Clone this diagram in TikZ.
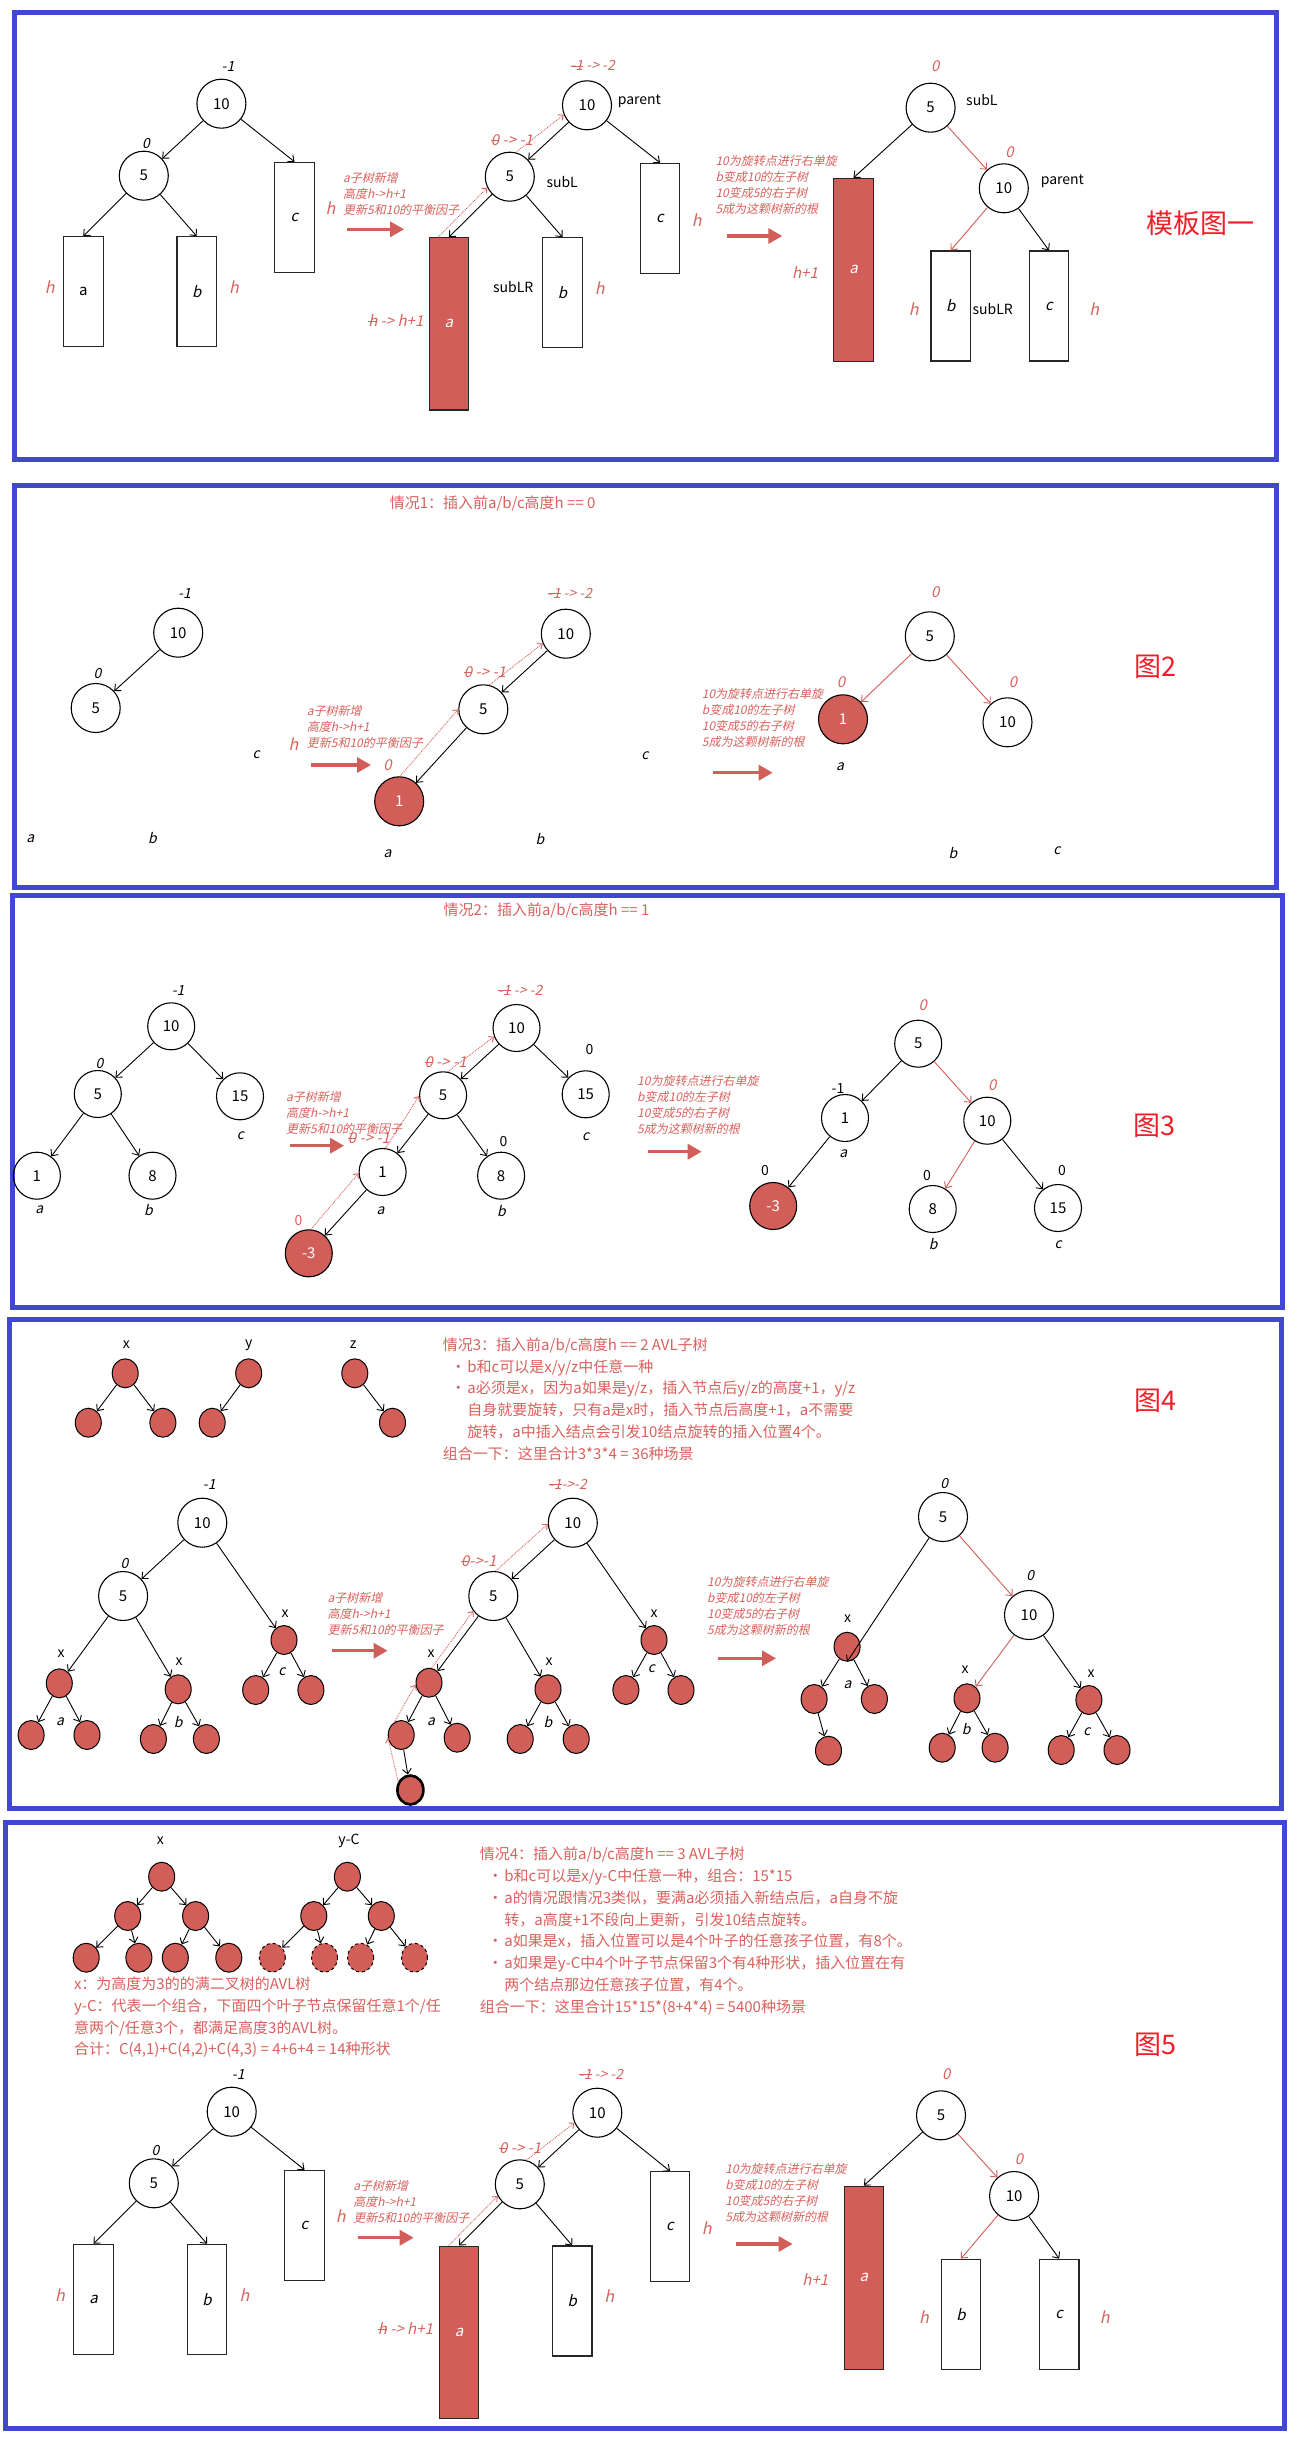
\documentclass[tikz,border=0pt]{standalone}
\usepackage{fontspec}
\setmainfont{Noto Sans CJK SC}
\newfontfamily\slf{Noto Sans CJK SC}[FakeSlant=0.22]
\usetikzlibrary{arrows.meta,shapes.geometric}
\definecolor{pblue}{RGB}{64,72,208}
\definecolor{nred}{RGB}{210,94,90}
\definecolor{tred}{RGB}{216,98,93}
\definecolor{bigred}{RGB}{240,30,40}
\newsavebox\strkbox
\newcommand\strk[1]{\sbox\strkbox{#1}\rlap{\usebox\strkbox}\rule[0.3em]{\wd\strkbox}{0.07em}}
\newcommand\fsz[1]{\fontsize{#1}{#1}\selectfont}
\tikzset{
 panel/.style={draw=pblue, line width=5pt},
 cn/.style={circle, draw=black, line width=1.1pt, minimum size=49pt, inner sep=0pt, font=\fsz{15}},
 cns/.style={cn, minimum size=47pt},
 rcn/.style={fill=nred, text=white},
 tbox/.style={rectangle, draw=black!85, line width=1.1pt, minimum width=39.5pt, minimum height=110pt, inner sep=0pt, font=\slf\fsz{15}},
 rbox/.style={tbox, fill=nred, text=white},
 sn/.style={ellipse, draw=black, fill=nred, line width=1pt, minimum width=26pt, minimum height=29pt, inner sep=0pt},
 ed/.style={-{Straight Barb[length=5pt,width=9pt]}, line width=0.9pt, draw=black},
 redge/.style={ed, draw=nred},
 dotarr/.style={-{Straight Barb[length=4pt,width=7pt]}, draw=tred, line width=0.9pt, densely dotted},
 bigarr/.style={-{Triangle[length=14pt,width=15pt]}, draw=nred, line width=3.2pt},
 lbl/.style={inner sep=0pt, font=\slf\fsz{14}},
 rlbl/.style={lbl, text=tred, font=\slf\fsz{15}},
 ann/.style={inner sep=0pt, anchor=north west, align=left, text=tred, font={\slf\fontsize{12}{16}\selectfont}},
 hl/.style={inner sep=0pt, text=tred, font=\slf\fsz{16}},
 nm/.style={inner sep=0pt, font=\fsz{14}},
 fig/.style={inner sep=0pt, text=bigred, font=\fsz{27}},
 ttl/.style={inner sep=0pt, anchor=west, text=tred, font=\fsz{15}},
 ptxt/.style={inner sep=0pt, anchor=north west, align=left, text=tred, font={\fontsize{15}{21.8}\selectfont}}
}
\newcommand\bul{\makebox[24.5pt][l]{\hspace*{8pt}•}}
\newcommand\ind{\hspace*{24.5pt}}
\begin{document}
\begin{tikzpicture}[x=1pt,y=-1pt]
\useasboundingbox (0,0) rectangle (1298,2438);
\fill[white] (0,0) rectangle (1298,2438);

%================ Panel 1
\draw[panel] (14,12.5) rectangle (1276,459);
\node[cn] (p1A10) at (221.4,103.7) {10};
\node[lbl] (p1t1) at (228,66.7) {-1};
\node[cn] (p1A5) at (143.8,175.7) {5};
\node[lbl] (p1t2) at (146,143.3) {0};
\node[tbox, font=\fsz{15}] (p1Aa) at (83.3,291.7) {a};
\node[tbox] (p1Ab) at (196.7,291.7) {b};
\node[tbox] (p1Ac) at (294.5,217.3) {c};
\node[hl] (p1t3) at (49.7,286.7) {h};
\node[hl] (p1t4) at (234,286.7) {h};
\draw[ed] (p1A10) -- (p1A5);
\draw[ed] (p1A10) -- (p1Ac.north);
\draw[ed] (p1A5) -- (p1Aa.north);
\draw[ed] (p1A5) -- (p1Ab.north);
\node[ann] (p1n1) at (343,171.7) {a子树新增\\高度h->h+1\\更新5和10的平衡因子};
\node[hl] (p1t5) at (330.4,208.3) {h};
\coordinate (p1r1s) at (347.4,229.3); \coordinate (p1r1e) at (404.1,229.3);
\draw[bigarr] (p1r1s) -- (p1r1e);
% middle
\node[cn] (p1B10) at (587,105.3) {10};
\node[rlbl, font=\slf\fsz{14}] (p1t6) at (592.7,65.7) {\strk{-1} -> -2};
\node[nm, anchor=west] (p1t7) at (617.6,101) {parent};
\node[cn] (p1B5) at (509.8,176.7) {5};
\node[nm, anchor=west] (p1t8) at (546.3,181.7) {subL};
\node[rlbl] (p1t9) at (512,140) {\strk{0} -> -1};
\node[rbox, minimum height=172.3pt] (p1Ba) at (448.9,323.85) {a};
\node[hl, font=\slf\fsz{15}] (p1t10) at (395.8,320.7) {\strk{h} -> h+1};
\node[tbox] (p1Bb) at (562.5,292.7) {b};
\node[nm] (p1t11) at (513.2,287.3) {subLR};
\node[hl] (p1t12) at (599.8,288.3) {h};
\node[tbox] (p1Bc) at (660,218.3) {c};
\node[hl] (p1t13) at (696.7,220) {h};
\draw[ed] (p1B10) -- (p1B5);
\draw[ed] (p1B10) -- (p1Bc.north);
\draw[ed] (p1B5) -- (p1Ba.north);
\draw[ed] (p1B5) -- (p1Bb.north);
\draw[dotarr] ([xshift=9.5pt]p1Ba.north west) -- (p1B5.206);
\draw[dotarr] (p1B5.76) -- (p1B10.202);
\node[ann] (p1n2) at (715.3,155) {10为旋转点进行右单旋\\b变成10的左子树\\10变成5的右子树\\5成为这颗树新的根};
\coordinate (p1r2s) at (726.5,236); \coordinate (p1r2e) at (782.3,236);
\draw[bigarr] (p1r2s) -- (p1r2e);
% right
\node[cn] (p1C5) at (930.6,107.7) {5};
\node[rlbl] (p1t14) at (935.2,65.7) {0};
\node[nm, anchor=west] (p1t15) at (966,100) {subL};
\node[cn] (p1C10) at (1003.8,188.3) {10};
\node[rlbl] (p1t16) at (1009.6,151.7) {0};
\node[nm, anchor=west] (p1t17) at (1040.6,181.7) {parent};
\node[rbox, minimum height=182.7pt] (p1Ca) at (853.5,269.7) {a};
\node[hl, font=\slf\fsz{15}] (p1t18) at (805,272.7) {h+1};
\node[tbox] (p1Cb) at (950.7,306) {b};
\node[nm, anchor=west] (p1t19) at (972.4,309.3) {subLR};
\node[hl] (p1t20) at (913.7,309.3) {h};
\node[tbox] (p1Cc) at (1049,306) {c};
\node[hl] (p1t21) at (1094.3,309.3) {h};
\draw[ed] (p1C5) -- (p1Ca.north);
\draw[redge] (p1C5) -- (p1C10);
\draw[redge] (p1C10) -- (p1Cb.north);
\draw[ed] (p1C10) -- (p1Cc.north);
\node[fig] (p1f) at (1200.7,223.3) {模板图一};

%================ Panel 2
\draw[panel] (14,485) rectangle (1276.6,887);
\node[ttl] (p2tt) at (389.6,503.3) {情况1：插入前a/b/c高度h == 0};
\node[cn] (p2A10) at (178.2,632.7) {10};
\node[lbl] (p2t1) at (184.5,593.3) {-1};
\node[cn] (p2A5) at (95.7,708) {5};
\node[lbl] (p2t2) at (97.4,674) {0};
\draw[ed] (p2A10) -- (p2A5);
\node[lbl] (p2t3) at (30.3,838.3) {a};
\node[lbl] (p2t4) at (152.5,838.3) {b};
\node[lbl] (p2t5) at (256.2,755) {c};
\node[ann] (p2n1) at (306.7,704.7) {a子树新增\\高度h->h+1\\更新5和10的平衡因子};
\node[hl] (p2t6) at (293.5,744) {h};
\coordinate (p2r1s) at (310.9,765); \coordinate (p2r1e) at (371,765);
\draw[bigarr] (p2r1s) -- (p2r1e);
\node[rlbl] (p2t7) at (387.6,765) {0};
\node[cn, rcn] (p2B1) at (399.2,801.3) {1};
\node[lbl] (p2t8) at (387.6,853.3) {a};
\node[cn] (p2B5) at (483.3,709.3) {5};
\node[rlbl] (p2t9) at (485,671.7) {\strk{0} -> -1};
\node[cn] (p2B10) at (565.8,633.7) {10};
\node[rlbl, font=\slf\fsz{14}] (p2t10) at (570,593.3) {\strk{-1} -> -2};
\draw[ed] (p2B10) -- (p2B5);
\draw[ed] (p2B5) -- (p2B1);
\draw[dotarr] (p2B1.88) -- (p2B5.180);
\draw[dotarr] (p2B5.76) -- (p2B10.203);
\node[lbl] (p2t11) at (540,839) {b};
\node[lbl] (p2t12) at (645,756) {c};
\node[ann] (p2n2) at (701.7,688) {10为旋转点进行右单旋\\b变成10的左子树\\10变成5的右子树\\5成为这颗树新的根};
\coordinate (p2r2s) at (712.8,772.7); \coordinate (p2r2e) at (772.7,772.7);
\draw[bigarr] (p2r2s) -- (p2r2e);
\node[cn] (p2C5) at (929.8,636.3) {5};
\node[rlbl] (p2t13) at (935.2,592.3) {0};
\node[cn, rcn] (p2C1) at (843,719.3) {1};
\node[rlbl] (p2t14) at (841,682.3) {0};
\node[cn] (p2C10) at (1007.5,722.3) {10};
\node[rlbl] (p2t15) at (1012.9,682.3) {0};
\draw[redge] (p2C5) -- (p2C1);
\draw[redge] (p2C5) -- (p2C10);
\node[lbl] (p2t16) at (840,766.7) {a};
\node[lbl] (p2t17) at (953,853.3) {b};
\node[lbl] (p2t18) at (1057,851) {c};
\node[fig] (p2f) at (1155,666.7) {图2};

%================ Panel 3
\draw[panel] (12,895) rectangle (1282,1307);
\node[ttl] (p3tt) at (443.5,910.7) {情况2：插入前a/b/c高度h == 1};
\node[cns] (p3A10) at (171.2,1026.3) {10};
\node[lbl] (p3t1) at (178.2,990) {-1};
\node[cns] (p3A5) at (97.8,1094) {5};
\node[lbl] (p3t2) at (99.5,1063.3) {0};
\node[cns] (p3A15) at (240,1096.3) {15};
\node[lbl] (p3t3) at (240.4,1136) {c};
\node[cns] (p3A1) at (36.9,1175.7) {1};
\node[lbl] (p3t4) at (39.4,1210) {a};
\node[cns] (p3A8) at (152.5,1175.7) {8};
\node[lbl] (p3t5) at (148.4,1210) {b};
\draw[ed] (p3A10) -- (p3A5);
\draw[ed] (p3A10) -- (p3A15);
\draw[ed] (p3A5) -- (p3A1);
\draw[ed] (p3A5) -- (p3A8);
\node[ann] (p3n1) at (286,1090.7) {a子树新增\\高度h->h+1\\更新5和10的平衡因子};
\coordinate (p3r1s) at (290,1145.7); \coordinate (p3r1e) at (344,1145.7);
\draw[bigarr] (p3r1s) -- (p3r1e);
\node[rlbl] (p3t6) at (369,1138.3) {\strk{0} -> -1};
\node[cns] (p3B10) at (516.5,1028) {10};
\node[rlbl, font=\slf\fsz{14}] (p3t7) at (520.2,990) {\strk{-1} -> -2};
\node[cns] (p3B5) at (443.1,1095.3) {5};
\node[rlbl] (p3t8) at (445.6,1061.7) {\strk{0} -> -1};
\node[cns] (p3B15) at (585.7,1094.3) {15};
\node[nm] (p3t9) at (589.4,1049.3) {0};
\node[lbl] (p3t10) at (585.7,1136.7) {c};
\node[cns] (p3B1) at (382.6,1172) {1};
\node[lbl] (p3t11) at (380.5,1211) {a};
\node[cns] (p3B8) at (501.1,1175.7) {8};
\node[nm] (p3t12) at (503.6,1141.7) {0};
\node[lbl] (p3t13) at (501.5,1211) {b};
\node[cns, rcn] (p3Bm) at (308.8,1253.3) {-3};
\node[nm, text=tred] (p3t14) at (298.4,1220) {0};
\draw[ed] (p3B10) -- (p3B5);
\draw[ed] (p3B10) -- (p3B15);
\draw[ed] (p3B5) -- (p3B1);
\draw[ed] (p3B5) -- (p3B8);
\draw[ed] (p3B1) -- (p3Bm);
\draw[dotarr] (p3Bm.85) -- (p3B1.183);
\draw[dotarr] (p3B1.83) -- (p3B5.182);
\draw[dotarr] (p3B5.79) -- (p3B10.201);
\node[ann] (p3n2) at (637,1075) {10为旋转点进行右单旋\\b变成10的左子树\\10变成5的右子树\\5成为这颗树新的根};
\coordinate (p3r2s) at (648,1151.7); \coordinate (p3r2e) at (701.7,1151.7);
\draw[bigarr] (p3r2s) -- (p3r2e);
\node[cns] (p3C5) at (918.2,1043.7) {5};
\node[rlbl] (p3t15) at (922.8,1005) {0};
\node[cns] (p3C1) at (845,1118) {1};
\node[nm] (p3t16) at (838,1088.3) {-1};
\node[lbl] (p3t17) at (843.4,1153.3) {a};
\node[cns] (p3C10) at (987.3,1120.7) {10};
\node[rlbl] (p3t18) at (992.2,1085) {0};
\node[cns, rcn] (p3Cm) at (773.2,1206) {-3};
\node[nm] (p3t19) at (764.9,1170) {0};
\node[cns] (p3C8) at (932.7,1209) {8};
\node[nm] (p3t20) at (927,1175) {0};
\node[lbl] (p3t21) at (933.1,1244.3) {b};
\node[cns] (p3C15) at (1058,1208) {15};
\node[nm] (p3t22) at (1062,1170) {0};
\node[lbl] (p3t23) at (1058.3,1245) {c};
\draw[ed] (p3C5) -- (p3C1);
\draw[redge] (p3C5) -- (p3C10);
\draw[ed] (p3C1) -- (p3Cm);
\draw[redge] (p3C10) -- (p3C8);
\draw[ed] (p3C10) -- (p3C15);
\node[fig] (p3f) at (1154.5,1126) {图3};

%================ Panel 4
\draw[panel] (9,1319) rectangle (1281.5,1808);
\node[nm] (p4t1) at (126.4,1345) {x};
\node[sn] (p4xr) at (125.2,1373.3) {};
\node[sn] (p4xl) at (88.3,1422.7) {};
\node[sn] (p4xrr) at (162.9,1422.7) {};
\draw[ed] (p4xr) -- (p4xl); \draw[ed] (p4xr) -- (p4xrr);
\node[nm] (p4t2) at (248.7,1345) {y};
\node[sn] (p4yr) at (248.7,1373.3) {};
\node[sn] (p4yl) at (212.2,1422.7) {};
\draw[ed] (p4yr) -- (p4yl);
\node[nm] (p4t3) at (353.2,1345) {z};
\node[sn] (p4zr) at (354.8,1373.3) {};
\node[sn] (p4zc) at (392.5,1422.7) {};
\draw[ed] (p4zr) -- (p4zc);
\node[ptxt] (p4txt) at (442.7,1337.5) {情况3：插入前a/b/c高度h == 2 AVL子树\\
\bul b和c可以是x/y/z中任意一种\\
\bul a必须是x，因为a如果是y/z，插入节点后y/z的高度+1，y/z\\
\ind 自身就要旋转，只有a是x时，插入节点后高度+1，a不需要\\
\ind 旋转，a中插入结点会引发10结点旋转的插入位置4个。\\
组合一下：这里合计3*3*4 = 36种场景};
% left tree
\node[cn] (p4A10) at (202.3,1522.7) {10};
\node[lbl] (p4t4) at (209.3,1484) {-1};
\node[cn] (p4A5) at (123.1,1596) {5};
\node[lbl] (p4t5) at (124.4,1563.3) {0};
\node[sn] (p4Ac) at (284,1640) {};
\node[nm] (p4t6) at (285.2,1613.3) {x};
\node[sn] (p4Ac1) at (255.7,1690) {};
\node[sn] (p4Ac2) at (310.9,1690) {};
\node[lbl] (p4t7) at (281.9,1671.7) {c};
\node[sn] (p4Aa) at (59.3,1683.3) {};
\node[nm] (p4t8) at (61,1653.3) {x};
\node[sn] (p4Aa1) at (31.1,1735) {};
\node[sn] (p4Aa2) at (87,1735) {};
\node[lbl] (p4t9) at (60.1,1721.7) {a};
\node[sn] (p4Ab) at (178.2,1689.3) {};
\node[nm] (p4t10) at (179,1661.7) {x};
\node[sn] (p4Ab1) at (153.4,1739) {};
\node[sn] (p4Ab2) at (206.4,1739) {};
\node[lbl] (p4t11) at (178.2,1721.7) {b};
\draw[ed] (p4A10) -- (p4A5);
\draw[ed] (p4A10) -- (p4Ac);
\draw[ed] (p4A5) -- (p4Aa);
\draw[ed] (p4A5) -- (p4Ab);
\draw[ed] (p4Aa) -- (p4Aa1); \draw[ed] (p4Aa) -- (p4Aa2);
\draw[ed] (p4Ab) -- (p4Ab1); \draw[ed] (p4Ab) -- (p4Ab2);
\draw[ed] (p4Ac) -- (p4Ac1); \draw[ed] (p4Ac) -- (p4Ac2);
\node[ann] (p4n1) at (327.5,1592.3) {a子树新增\\高度h->h+1\\更新5和10的平衡因子};
\coordinate (p4r1s) at (331.6,1650.7); \coordinate (p4r1e) at (387.6,1650.7);
\draw[bigarr] (p4r1s) -- (p4r1e);
% middle tree
\node[cn] (p4B10) at (572.8,1522.7) {10};
\node[rlbl, font=\slf\fsz{14}] (p4t12) at (567.9,1484) {\strk{-1}->-2};
\node[cn] (p4B5) at (493.3,1596) {5};
\node[rlbl] (p4t13) at (478.8,1560.7) {\strk{0}->-1};
\node[sn] (p4Ba) at (429,1682.7) {};
\node[nm] (p4t14) at (431,1653.3) {x};
\node[sn] (p4Ba1) at (401.2,1735) {};
\node[sn] (p4Ba2) at (457.2,1737.7) {};
\node[lbl] (p4t15) at (431,1721.7) {a};
\node[sn, line width=2.6pt] (p4Bn) at (410.4,1790) {};
\node[sn] (p4Bb) at (548,1689.3) {};
\node[nm] (p4t16) at (549.2,1661.7) {x};
\node[sn] (p4Bb1) at (520.2,1739) {};
\node[sn] (p4Bb2) at (576.2,1739) {};
\node[lbl] (p4t17) at (548,1721.7) {b};
\node[sn] (p4Bc) at (654,1640) {};
\node[nm] (p4t18) at (654,1613.3) {x};
\node[sn] (p4Bc1) at (625.9,1690) {};
\node[sn] (p4Bc2) at (681,1690) {};
\node[lbl] (p4t19) at (651.4,1669) {c};
\draw[ed] (p4B10) -- (p4B5);
\draw[ed] (p4B10) -- (p4Bc);
\draw[ed] (p4B5) -- (p4Ba);
\draw[ed] (p4B5) -- (p4Bb);
\draw[ed] (p4Ba) -- (p4Ba1); \draw[ed] (p4Ba) -- (p4Ba2);
\draw[ed] (p4Ba1) -- (p4Bn);
\draw[ed] (p4Bb) -- (p4Bb1); \draw[ed] (p4Bb) -- (p4Bb2);
\draw[ed] (p4Bc) -- (p4Bc1); \draw[ed] (p4Bc) -- (p4Bc2);
\draw[dotarr] (p4Bn.146) -- (p4Ba1.192);
\draw[dotarr] (p4Ba1.119) -- (p4Ba.189);
\draw[dotarr] (p4Ba.80) -- (p4B5.217);
\draw[dotarr] (p4B5.85) -- (p4B10.183);
\node[ann] (p4n2) at (707,1575.7) {10为旋转点进行右单旋\\b变成10的左子树\\10变成5的右子树\\5成为这颗树新的根};
\coordinate (p4r2s) at (718.2,1658.3); \coordinate (p4r2e) at (776,1658.3);
\draw[bigarr] (p4r2s) -- (p4r2e);
% right tree
\node[cn] (p4C5) at (943,1517) {5};
\node[lbl] (p4t20) at (944.3,1483.3) {0};
\node[cn] (p4C10) at (1029,1615) {10};
\node[lbl] (p4t21) at (1030.2,1575) {0};
\node[sn] (p4Ca) at (847.1,1646.7) {};
\node[nm] (p4t22) at (847.6,1618.3) {x};
\node[sn] (p4Ca1) at (814.1,1699) {};
\node[sn] (p4Ca2) at (874.4,1699) {};
\node[lbl] (p4t23) at (847.6,1685) {a};
\node[sn] (p4Ca11) at (828.5,1750.7) {};
\node[sn] (p4Cb) at (967,1698.3) {};
\node[nm] (p4t24) at (965,1670) {x};
\node[sn] (p4Cb1) at (942.2,1747.7) {};
\node[sn] (p4Cb2) at (995.1,1747.7) {};
\node[lbl] (p4t25) at (966.2,1729.3) {b};
\node[sn] (p4Cc) at (1088.9,1700) {};
\node[nm] (p4t26) at (1091,1673.3) {x};
\node[sn] (p4Cc1) at (1061.2,1750) {};
\node[sn] (p4Cc2) at (1117,1750) {};
\node[lbl] (p4t27) at (1086.9,1731.7) {c};
\draw[ed] (p4C5) -- (p4Ca.south);
\draw[redge] (p4C5) -- (p4C10);
\draw[redge] (p4C10) -- (p4Cb);
\draw[ed] (p4C10) -- (p4Cc);
\draw[ed] (p4Ca) -- (p4Ca1); \draw[ed] (p4Ca) -- (p4Ca2);
\draw[ed] (p4Ca1) -- (p4Ca11);
\draw[ed] (p4Cb) -- (p4Cb1); \draw[ed] (p4Cb) -- (p4Cb2);
\draw[ed] (p4Cc) -- (p4Cc1); \draw[ed] (p4Cc) -- (p4Cc2);
\node[fig] (p4f) at (1155.7,1400.7) {图4};

%================ Panel 5
\draw[panel] (5.5,1822) rectangle (1284,2428);
\node[nm] (p5t1) at (160.4,1840.7) {x};
\node[sn] (p5xr) at (161.7,1876.7) {};
\node[sn] (p5xl) at (127.7,1916) {};
\node[sn] (p5xm) at (195.6,1916) {};
\node[sn] (p5x1) at (86.2,1957.7) {};
\node[sn] (p5x2) at (138.9,1957.7) {};
\node[sn] (p5x3) at (175.3,1957.7) {};
\node[sn] (p5x4) at (228.8,1957.7) {};
\draw[ed] (p5xr) -- (p5xl); \draw[ed] (p5xr) -- (p5xm);
\draw[ed] (p5xl) -- (p5x1); \draw[ed] (p5xl) -- (p5x2);
\draw[ed] (p5xm) -- (p5x3); \draw[ed] (p5xm) -- (p5x4);
\node[nm] (p5t2) at (349,1840.7) {y-C};
\node[sn] (p5yr) at (347.4,1876.7) {};
\node[sn] (p5yl) at (313.8,1916) {};
\node[sn] (p5ym) at (381.3,1916) {};
\node[sn, dashed] (p5y1) at (272.3,1957.7) {};
\node[sn, dashed] (p5y2) at (324.5,1957.7) {};
\node[sn, dashed] (p5y3) at (360.6,1957.7) {};
\node[sn, dashed] (p5y4) at (414.5,1957.7) {};
\draw[ed] (p5yr) -- (p5yl); \draw[ed] (p5yr) -- (p5ym);
\draw[ed] (p5yl) -- (p5y1); \draw[ed] (p5yl) -- (p5y2);
\draw[ed] (p5ym) -- (p5y3); \draw[ed] (p5ym) -- (p5y4);
\node[ptxt] (p5txa) at (73.8,1976.5) {x：为高度为3的的满二叉树的AVL树\\
y-C：代表一个组合，下面四个叶子节点保留任意1个/任\\
意两个/任意3个，都满足高度3的AVL树。\\
合计：C(4,1)+C(4,2)+C(4,3) = 4+6+4 = 14种形状};
\node[ptxt] (p5txb) at (479.7,1846.8) {情况4：插入前a/b/c高度h == 3 AVL子树\\
\bul b和c可以是x/y-C中任意一种，组合：15*15\\
\bul a的情况跟情况3类似，要满a必须插入新结点后，a自身不旋\\
\ind 转，a高度+1不段向上更新，引发10结点旋转。\\
\bul a如果是x，插入位置可以是4个叶子的任意孩子位置，有8个。\\
\bul a如果是y-C中4个叶子节点保留3个有4种形状，插入位置在有\\
\ind 两个结点那边任意孩子位置，有4个。\\
组合一下：这里合计15*15*(8+4*4) = 5400种场景};
\node[fig] (p5f) at (1155.5,2045) {图5};
% bottom left tree
\node[cn] (p5A10) at (231.7,2111.7) {10};
\node[lbl] (p5t3) at (238.3,2074) {-1};
\node[cn] (p5A5) at (153.8,2183.3) {5};
\node[lbl] (p5t4) at (155.4,2150) {0};
\node[tbox] (p5Aa) at (93.5,2299.3) {a};
\node[hl] (p5t5) at (60.1,2295) {h};
\node[tbox] (p5Ab) at (207,2299.3) {b};
\node[hl] (p5t6) at (244.6,2295) {h};
\node[tbox] (p5Ac) at (304.5,2225.3) {c};
\draw[ed] (p5A10) -- (p5A5);
\draw[ed] (p5A10) -- (p5Ac.north);
\draw[ed] (p5A5) -- (p5Aa.north);
\draw[ed] (p5A5) -- (p5Ab.north);
\node[ann] (p5n1) at (353.2,2180) {a子树新增\\高度h->h+1\\更新5和10的平衡因子};
\node[hl] (p5t7) at (340.7,2216) {h};
\coordinate (p5r1s) at (357.7,2237.7); \coordinate (p5r1e) at (413.7,2237.7);
\draw[bigarr] (p5r1s) -- (p5r1e);
% middle
\node[cn] (p5B10) at (597.3,2112.7) {10};
\node[rlbl, font=\slf\fsz{14}] (p5t8) at (601,2074) {\strk{-1} -> -2};
\node[cn] (p5B5) at (519.8,2184.3) {5};
\node[rlbl] (p5t9) at (520.2,2148.3) {\strk{0} -> -1};
\node[rbox, minimum height=172.3pt] (p5Ba) at (459,2332.2) {a};
\node[hl, font=\slf\fsz{15}] (p5t10) at (405.4,2328.3) {\strk{h} -> h+1};
\node[tbox] (p5Bb) at (572.2,2301) {b};
\node[hl] (p5t11) at (609.3,2296) {h};
\node[tbox] (p5Bc) at (670,2226.7) {c};
\node[hl] (p5t12) at (706.6,2227.7) {h};
\draw[ed] (p5B10) -- (p5B5);
\draw[ed] (p5B10) -- (p5Bc.north);
\draw[ed] (p5B5) -- (p5Ba.north);
\draw[ed] (p5B5) -- (p5Bb.north);
\draw[dotarr] ([xshift=10pt]p5Ba.north west) -- (p5B5.208);
\draw[dotarr] (p5B5.75) -- (p5B10.204);
\node[ann] (p5n2) at (725.2,2163.3) {10为旋转点进行右单旋\\b变成10的左子树\\10变成5的右子树\\5成为这颗树新的根};
\coordinate (p5r2s) at (736,2244); \coordinate (p5r2e) at (792.6,2244);
\draw[bigarr] (p5r2s) -- (p5r2e);
% right
\node[cn] (p5C5) at (941,2115.3) {5};
\node[rlbl] (p5t13) at (946.3,2074) {0};
\node[cn] (p5C10) at (1014.1,2196) {10};
\node[rlbl] (p5t14) at (1019,2159) {0};
\node[rbox, minimum height=183.3pt] (p5Ca) at (863.9,2277.7) {a};
\node[hl, font=\slf\fsz{15}] (p5t15) at (815.3,2280) {h+1};
\node[tbox] (p5Cb) at (961,2314.2) {b};
\node[hl] (p5t16) at (924,2316.7) {h};
\node[tbox] (p5Cc) at (1059.2,2314.2) {c};
\node[hl] (p5t17) at (1104.6,2316.7) {h};
\draw[ed] (p5C5) -- (p5Ca.north);
\draw[redge] (p5C5) -- (p5C10);
\draw[redge] (p5C10) -- (p5Cb.north);
\draw[ed] (p5C10) -- (p5Cc.north);
\end{tikzpicture}
\end{document}
